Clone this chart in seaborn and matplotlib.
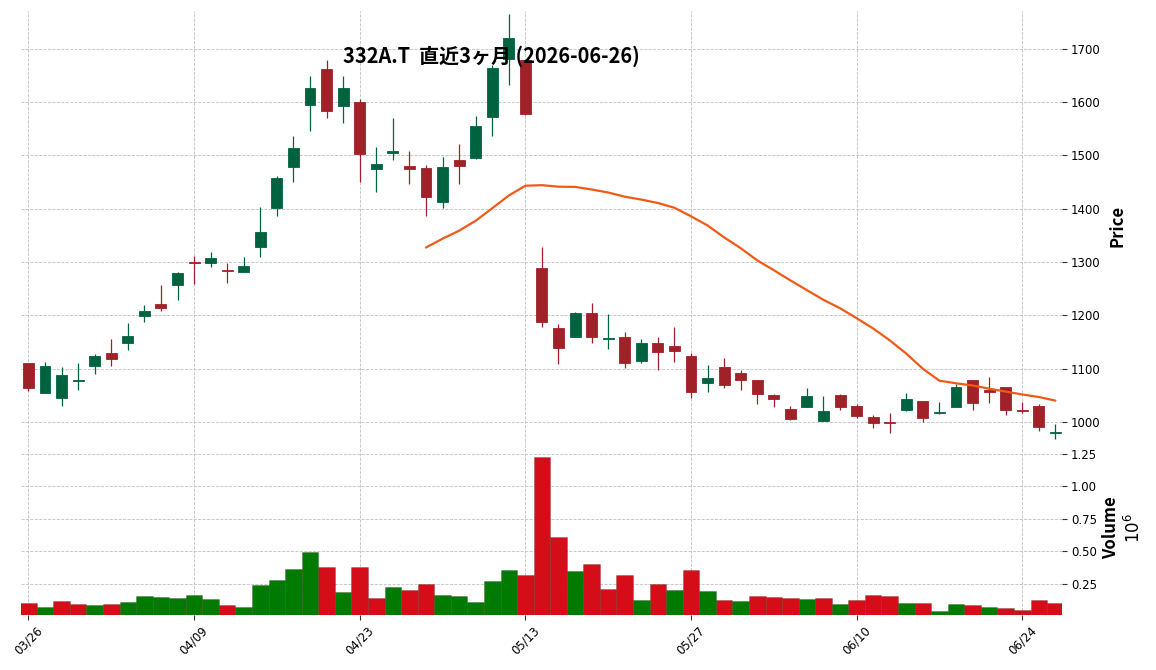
import numpy as np
import pandas as pd
import matplotlib
matplotlib.use("Agg")
import matplotlib.pyplot as plt
import seaborn as sns

# ---------------- data ----------------
dates = [
    "2026-03-26", "2026-03-27", "2026-03-30", "2026-03-31", "2026-04-01", "2026-04-02", "2026-04-03",
    "2026-04-06", "2026-04-07", "2026-04-08", "2026-04-09", "2026-04-10", "2026-04-13", "2026-04-14",
    "2026-04-15", "2026-04-16", "2026-04-17", "2026-04-20", "2026-04-21", "2026-04-22", "2026-04-23",
    "2026-04-24", "2026-04-27", "2026-04-28", "2026-04-30", "2026-05-01", "2026-05-07", "2026-05-08",
    "2026-05-11", "2026-05-12", "2026-05-13", "2026-05-14", "2026-05-15", "2026-05-18", "2026-05-19",
    "2026-05-20", "2026-05-21", "2026-05-22", "2026-05-25", "2026-05-26", "2026-05-27", "2026-05-28",
    "2026-05-29", "2026-06-01", "2026-06-02", "2026-06-03", "2026-06-04", "2026-06-05", "2026-06-08",
    "2026-06-09", "2026-06-10", "2026-06-11", "2026-06-12", "2026-06-15", "2026-06-16", "2026-06-17",
    "2026-06-18", "2026-06-19", "2026-06-22", "2026-06-23", "2026-06-24", "2026-06-25", "2026-06-26",
]
opens = [1110, 1054, 1045, 1077, 1105, 1129, 1148, 1199, 1222, 1257,
         1300, 1298, 1285, 1281, 1328, 1401, 1479, 1594, 1663, 1592,
         1601, 1475, 1505, 1480, 1476, 1413, 1491, 1496, 1573, 1681,
         1680, 1289, 1176, 1159, 1204, 1155, 1159, 1114, 1149, 1142,
         1123, 1074, 1104, 1092, 1079, 1051, 1025, 1029, 1002, 1051,
         1030, 1010, 1001, 1023, 1039, 1017, 1029, 1079, 1061, 1066,
         1022, 1030, 980]
highs = [1111, 1113, 1103, 1110, 1128, 1156, 1186, 1220, 1257, 1281,
         1311, 1319, 1298, 1310, 1403, 1462, 1536, 1649, 1679, 1649,
         1606, 1515, 1570, 1509, 1482, 1498, 1521, 1574, 1670, 1766,
         1680, 1328, 1184, 1207, 1224, 1203, 1169, 1156, 1159, 1178,
         1130, 1107, 1121, 1098, 1079, 1053, 1030, 1064, 1049, 1053,
         1034, 1013, 1017, 1054, 1039, 1037, 1072, 1079, 1084, 1066,
         1038, 1034, 997]
lows = [1058, 1054, 1031, 1061, 1091, 1106, 1136, 1187, 1209, 1229,
        1259, 1291, 1261, 1281, 1310, 1387, 1450, 1545, 1570, 1560,
        1451, 1432, 1491, 1447, 1386, 1402, 1447, 1493, 1536, 1632,
        1576, 1179, 1109, 1159, 1148, 1137, 1101, 1111, 1098, 1113,
        1046, 1056, 1064, 1060, 1033, 1028, 1003, 1029, 1002, 1022,
        1007, 989, 979, 1020, 1000, 1016, 1029, 1023, 1036, 1013,
        1017, 984, 969]
closes = [1063, 1106, 1089, 1079, 1123, 1118, 1162, 1209, 1214, 1280,
          1298, 1307, 1284, 1292, 1357, 1457, 1514, 1627, 1584, 1626,
          1503, 1484, 1509, 1475, 1422, 1479, 1481, 1555, 1665, 1720,
          1577, 1188, 1138, 1204, 1159, 1157, 1110, 1149, 1132, 1134,
          1057, 1083, 1069, 1078, 1053, 1044, 1006, 1049, 1021, 1029,
          1012, 999, 998, 1043, 1008, 1019, 1066, 1035, 1056, 1022,
          1021, 991, 981]
volumes = [105000, 74000, 121000, 98000, 90000, 98000, 113000, 160000, 152000, 144000,
           167000, 136000, 90000, 74000, 245000, 284000, 369000, 493000, 384000, 191000,
           377000, 144000, 229000, 206000, 253000, 167000, 160000, 113000, 276000, 361000,
           322000, 1229000, 609000, 353000, 400000, 214000, 322000, 129000, 253000, 206000,
           361000, 198000, 129000, 121000, 160000, 152000, 144000, 136000, 144000, 98000,
           129000, 167000, 160000, 105000, 105000, 43000, 98000, 90000, 74000, 67000,
           52000, 129000, 105000]
ma_window = 25
title = "332A.T  直近3ヶ月 (2026-06-26)"

# ---------------- style ----------------
UP_C, DOWN_C = "#006340", "#a02128"
VUP_C, VDOWN_C = "#007a00", "#d50d18"
MA_C = "#f05a16"
GRID_C = "#c0c0c0"

sns.set_theme(style="white")
plt.rcParams["font.family"] = ["DejaVu Sans"]
plt.rcParams["text.color"] = "black"
plt.rcParams["axes.labelcolor"] = "black"
plt.rcParams["xtick.color"] = "black"
plt.rcParams["ytick.color"] = "black"
CJK = ["Noto Sans CJK JP", "DejaVu Sans"]

n = len(dates)
x = np.arange(n)
o = np.array(opens, float)
c = np.array(closes, float)
candle_cols = np.where(c > o, UP_C, DOWN_C)

vdir = ["up" if opens[0] < closes[0] else "down"] + [
    "up" if closes[i] > closes[i - 1] else "down" for i in range(1, n)
]
df = pd.DataFrame({
    "x": x,
    "vol": np.array(volumes) / 1e6,
    "dir": vdir,
    "ma": pd.Series(closes, dtype=float).rolling(ma_window).mean(),
})

fig = plt.figure(figsize=(11.56, 6.70), dpi=100)
L, W = 21 / 1156, 1041 / 1156
ax_p = fig.add_axes([L, 1 - 440.7 / 670, W, 429.7 / 670])
ax_v = fig.add_axes([L, 1 - 614.8 / 670, W, 174.1 / 670], sharex=ax_p)

# candles
ax_p.vlines(x, lows, highs, colors=candle_cols, linewidth=0.9, zorder=2)
ax_p.bar(x, np.abs(c - o), bottom=np.minimum(o, c), width=0.66,
         color=candle_cols, edgecolor=candle_cols, linewidth=0.6, zorder=3)
# moving average
sns.lineplot(data=df.dropna(), x="x", y="ma", ax=ax_p, color=MA_C,
             linewidth=1.6, errorbar=None, zorder=4)

# volume
sns.barplot(data=df, x="x", y="vol", hue="dir", palette={"up": VUP_C, "down": VDOWN_C},
            native_scale=True, width=1.0, dodge=False, saturation=1, legend=False,
            ax=ax_v, edgecolor=(0, 0, 0, 0.25), linewidth=0.5, zorder=3)

# limits
ax_p.set_xlim(-0.45, 62.4)
ax_p.set_ylim(965, 1771)
ax_v.set_ylim(0.013, 1.352)

# ticks
tick_pos = list(range(0, n, 10))
tick_lab = [pd.Timestamp(dates[i]).strftime("%m/%d") for i in tick_pos]
ax_v.set_xticks(tick_pos)
ax_v.set_xticklabels(tick_lab, rotation=45, ha="center", fontsize=8.5)
ax_p.tick_params(axis="x", bottom=False, labelbottom=False)

for ax in (ax_p, ax_v):
    ax.yaxis.tick_right()
    ax.tick_params(axis="y", right=True, left=False, length=3.5, width=0.8,
                   color="#333333", labelsize=8.5, pad=3, labelcolor="black")
    ax.grid(True, linestyle="--", color=GRID_C, linewidth=0.6)
    ax.set_axisbelow(True)
    for s in ax.spines.values():
        s.set_visible(False)
ax_v.tick_params(axis="x", bottom=True, length=3.5, width=0.8, color="#333333",
                 pad=3, labelcolor="black")

ax_p.set_yticks(range(1000, 1701, 100))
ax_v.set_yticks([0.25, 0.50, 0.75, 1.00, 1.25])
ax_v.set_yticklabels(["0.25", "0.50", "0.75", "1.00", "1.25"])

ax_p.set_xlabel("")
ax_v.set_xlabel("")
ax_p.set_ylabel("Price", fontsize=12, fontweight="bold", family=CJK, color="black")
ax_p.yaxis.set_label_position("right")
ax_v.set_ylabel("Volume\n$10^{6}$", fontsize=12, fontweight="bold", family=CJK, color="black")
ax_v.yaxis.set_label_position("right")
for ax, xpix in ((ax_p, 1118), (ax_v, 1123)):
    lab = ax.yaxis.label
    lab.set_rotation(90)
    lab.set_rotation_mode("anchor")
    lab.set_ha("center")
    lab.set_va("center")
    ax.yaxis.set_label_coords((xpix - 21) / 1041, 0.5)

fig.text(491.5 / 1156, 1 - 56 / 670, title, ha="center", va="center",
         fontsize=14.4, fontweight="bold", family=CJK, color="black")

fig.savefig("out.png", dpi=100)
